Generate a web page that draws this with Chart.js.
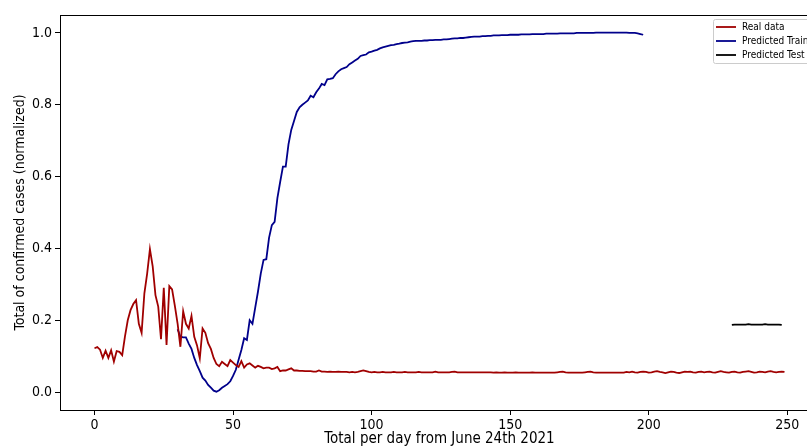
<!DOCTYPE html>
<html>
<head>
<meta charset="utf-8">
<script src="https://cdn.jsdelivr.net/npm/chart.js@4/dist/chart.umd.min.js"></script>
<style>
  html,body{margin:0;padding:0;background:#fff;overflow:hidden;width:807px;height:447px;}
  #wrap{position:absolute;left:0;top:0;width:840px;height:447px;}
</style>
</head>
<body>
<div id="wrap"><canvas id="chart" width="840" height="447"></canvas></div>
<script>
const FONT = "'DejaVu Sans Condensed', 'DejaVu Sans', sans-serif";

// Real data, one value per day starting at day 0
const realData = [
  0.122,0.125,0.118,0.095,0.115,0.095,0.116,0.085,0.114,0.112,
  0.103,0.155,0.2,0.228,0.245,0.256,0.19,0.165,0.275,0.33,
  0.398,0.35,0.27,0.238,0.147,0.29,0.131,0.295,0.286,0.24,
  0.19,0.126,0.225,0.19,0.177,0.212,0.154,0.13,0.094,0.177,
  0.165,0.136,0.12,0.095,0.078,0.072,0.084,0.078,0.072,0.089,
  0.082,0.075,0.07,0.086,0.068,0.077,0.08,0.074,0.068,0.073,
  0.07,0.066,0.068,0.068,0.064,0.066,0.07,0.058,0.06,0.06,
  0.063,0.066,0.06,0.06,0.059,0.059,0.058,0.058,0.058,0.057,
  0.057,0.06,0.057,0.057,0.056,0.057,0.056,0.056,0.057,0.056,
  0.056,0.056,0.055,0.056,0.055,0.056,0.058,0.06,0.058,0.056,
  0.055,0.056,0.055,0.055,0.056,0.055,0.055,0.055,0.056,0.055,
  0.055,0.055,0.056,0.055,0.055,0.055,0.055,0.056,0.055,0.055,
  0.055,0.055,0.055,0.057,0.055,0.055,0.055,0.055,0.055,0.056,
  0.057,0.055,0.055,0.055,0.055,0.055,0.055,0.055,0.055,0.055,
  0.055,0.055,0.055,0.055,0.054,0.055,0.054,0.054,0.055,0.054,
  0.054,0.054,0.055,0.054,0.054,0.054,0.054,0.054,0.055,0.054,
  0.054,0.054,0.054,0.054,0.054,0.054,0.054,0.055,0.056,0.057,
  0.055,0.054,0.054,0.054,0.054,0.054,0.054,0.055,0.056,0.057,
  0.055,0.054,0.054,0.054,0.054,0.054,0.054,0.054,0.054,0.054,
  0.054,0.054,0.056,0.055,0.057,0.055,0.054,0.056,0.057,0.056,
  0.054,0.055,0.057,0.058,0.056,0.055,0.053,0.055,0.057,0.056,
  0.054,0.053,0.055,0.057,0.056,0.057,0.055,0.054,0.056,0.057,
  0.055,0.056,0.057,0.055,0.054,0.056,0.058,0.056,0.055,0.054,
  0.056,0.057,0.055,0.054,0.056,0.057,0.058,0.056,0.054,0.055,
  0.057,0.056,0.055,0.057,0.058,0.056,0.055,0.056,0.057,0.056
];

// Train predictions start at day 30
const trainStart = 30;
const trainPred = [
  0.175,0.154,0.152,0.152,0.135,0.12,0.095,0.075,0.058,0.04,
  0.032,0.02,0.012,0.004,0.001,0.005,0.012,0.017,0.022,0.03,
  0.045,0.062,0.09,0.117,0.15,0.145,0.2,0.19,0.235,0.28,
  0.33,0.368,0.37,0.43,0.465,0.474,0.54,0.585,0.628,0.628,
  0.69,0.73,0.755,0.78,0.793,0.8,0.806,0.812,0.825,0.821,
  0.835,0.845,0.858,0.855,0.871,0.872,0.874,0.885,0.893,0.899,
  0.902,0.905,0.913,0.918,0.923,0.928,0.936,0.938,0.94,0.946,
  0.948,0.951,0.953,0.957,0.96,0.962,0.964,0.966,0.967,0.969,
  0.97,0.972,0.973,0.974,0.976,0.977,0.978,0.978,0.978,0.979,
  0.979,0.98,0.98,0.981,0.981,0.981,0.982,0.982,0.983,0.984,
  0.985,0.985,0.986,0.986,0.987,0.988,0.989,0.99,0.99,0.99,
  0.991,0.991,0.992,0.992,0.993,0.993,0.993,0.994,0.994,0.994,
  0.995,0.995,0.995,0.995,0.996,0.996,0.996,0.996,0.997,0.997,
  0.997,0.997,0.997,0.998,0.998,0.998,0.998,0.998,0.999,0.999,
  0.999,0.999,0.999,0.999,1.0,1.0,1.0,1.0,1.0,1.0,
  1.0,1.001,1.001,1.001,1.001,1.001,1.001,1.001,1.001,1.001,
  1.001,1.001,1.001,1.0,1.0,1.0,0.999,0.997,0.995
];

// Test predictions start at day 230
const testStart = 230;
const testPred = [
  0.187,0.188,0.188,0.188,0.188,0.188,0.189,0.188,0.188,0.188,
  0.188,0.188,0.189,0.188,0.188,0.188,0.188,0.188,0.187
];

const xTicks = [0,50,100,150,200,250];
const yTicks = [0.0,0.2,0.4,0.6,0.8,1.0];

const toPoints = (arr,start)=>arr.map((v,i)=>({x:start+i,y:v}));

// frame on all 4 sides + legend box inside the plot
const framePlugin = {
  id:"frame",
  afterDraw(chart){
    const {ctx,chartArea:a} = chart;
    ctx.save();
    ctx.strokeStyle = "#000";
    ctx.lineWidth = 1;
    ctx.strokeRect(a.left+0.5,a.top+0.5,a.right-a.left,a.bottom-a.top);

    // legend
    const bx = 713, by = 19, bw = 120, bh = 44;
    ctx.fillStyle = "rgba(255,255,255,0.85)";
    ctx.strokeStyle = "#cccccc";
    ctx.beginPath();
    ctx.roundRect(bx+0.5,by+0.5,bw,bh,2);
    ctx.fill();
    ctx.stroke();
    ctx.font = "10px " + FONT;
    ctx.textBaseline = "middle";
    chart.data.datasets.forEach((ds,i)=>{
      const y = by + 8 + i*14;
      ctx.strokeStyle = ds.borderColor;
      ctx.lineWidth = 1.8;
      ctx.beginPath();
      ctx.moveTo(bx+3,y);
      ctx.lineTo(bx+23,y);
      ctx.stroke();
      ctx.fillStyle = "#000";
      ctx.fillText(ds.label,bx+29,y);
    });
    ctx.restore();
  }
};

new Chart(document.getElementById("chart"),{
  type:"line",
  data:{
    datasets:[
      {label:"Real data",data:toPoints(realData,0),borderColor:"#a00000"},
      {label:"Predicted Train",data:toPoints(trainPred,trainStart),borderColor:"#00008b"},
      {label:"Predicted Test",data:toPoints(testPred,testStart),borderColor:"#000000"}
    ]
  },
  options:{
    responsive:false,
    animation:false,
    parsing:false,
    layout:{padding:{top:15,right:21,left:0,bottom:0}},
    elements:{
      line:{borderWidth:1.8,tension:0},
      point:{radius:0}
    },
    plugins:{legend:{display:false},tooltip:{enabled:false}},
    scales:{
      x:{
        type:"linear",
        min:-12.45,
        max:261.45,
        afterFit:s=>{s.height = 37;},
        afterBuildTicks:s=>{s.ticks = xTicks.map(v=>({value:v}));},
        grid:{drawOnChartArea:false,drawTicks:true,tickLength:5,color:"#000"},
        border:{display:false},
        ticks:{color:"#000",padding:2,maxRotation:0,font:{family:FONT,size:14}},
        title:{display:true,text:"Total per day from June 24th 2021",color:"#000",
          font:{family:FONT,size:15,lineHeight:1},padding:{top:0,bottom:0}}
      },
      y:{
        min:-0.05,
        max:1.05,
        afterFit:s=>{s.width = 60;},
        afterBuildTicks:s=>{s.ticks = yTicks.map(v=>({value:v}));},
        grid:{drawOnChartArea:false,drawTicks:true,tickLength:5,color:"#000"},
        border:{display:false},
        ticks:{color:"#000",padding:3,font:{family:FONT,size:14},callback:v=>v.toFixed(1)},
        title:{display:true,text:"Total of confirmed cases (normalized)",color:"#000",
          font:{family:FONT,size:14},padding:{top:12,bottom:0}}
      }
    }
  },
  plugins:[framePlugin]
});
</script>
</body>
</html>
